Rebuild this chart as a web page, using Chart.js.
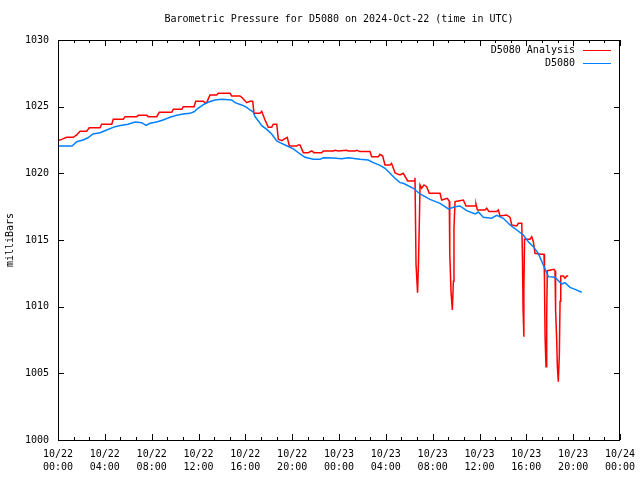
<!DOCTYPE html>
<html>
<head>
<meta charset="utf-8">
<script src="https://cdn.jsdelivr.net/npm/chart.js@4/dist/chart.umd.min.js"></script>
<style>
  body { margin: 0; background: #fff; }
</style>
</head>
<body>
<canvas id="pressureChart" width="640" height="480"></canvas>
<script>
// hours since 10/22 00:00 UTC
const xTickHours = [0, 4, 8, 12, 16, 20, 24, 28, 32, 36, 40, 44, 48];
const xTickLabels = [
  ['10/22', '00:00'], ['10/22', '04:00'], ['10/22', '08:00'], ['10/22', '12:00'],
  ['10/22', '16:00'], ['10/22', '20:00'], ['10/23', '00:00'], ['10/23', '04:00'],
  ['10/23', '08:00'], ['10/23', '12:00'], ['10/23', '16:00'], ['10/23', '20:00'],
  ['10/24', '00:00']
];
const yTicks = [1000, 1005, 1010, 1015, 1020, 1025, 1030];

const analysisHours = [
  0, 0.32, 0.74, 1.31, 1.6, 1.88, 2.45, 2.67, 3.59, 3.73,
  4.59, 4.72, 5.58, 5.72, 6.72, 6.86, 7.58, 7.71, 8.43, 8.65,
  9.71, 9.85, 10.57, 10.7, 11.62, 11.76, 12.41, 12.56, 12.7, 12.98,
  13.55, 13.69, 14.69, 14.84, 15.54, 15.69, 16.12, 16.4, 16.63, 16.74,
  17.25, 17.4, 17.68, 17.96, 18.25, 18.39, 18.68, 18.82, 19.11, 19.39,
  19.58, 19.76, 20.39, 20.52, 20.67, 20.95, 21.38, 21.67, 21.87, 22.52,
  22.66, 23.51, 23.66, 23.94, 24.66, 24.8, 25.37, 25.51, 25.79, 26.65,
  26.79, 27.36, 27.5, 27.73, 27.93, 28.36, 28.49, 28.78, 28.87, 29.21,
  29.49, 29.87, 30.43, 30.49, 30.58, 30.71, 30.79, 30.88, 30.92, 31.06,
  31.26, 31.49, 31.71, 32.63, 32.77, 33.25, 33.42, 33.46, 33.57, 33.68,
  33.77, 33.82, 33.91, 34.19, 34.62, 34.85, 35.62, 35.7, 35.82, 36.47,
  36.62, 36.81, 37.47, 37.61, 37.75, 38.32, 38.61, 38.75, 39.18, 39.32,
  39.61, 39.66, 39.72, 39.78, 39.8, 39.85, 40.31, 40.46, 40.6, 40.74,
  41.23, 41.51, 41.55, 41.6, 41.68, 41.74, 41.79, 42.36, 42.45, 42.5,
  42.59, 42.65, 42.73, 42.82, 42.88, 42.94, 43.16, 43.3, 43.45, 43.58
];
const analysisValues = [
  1022.45, 1022.55, 1022.7, 1022.7, 1022.88, 1023.15, 1023.15, 1023.42, 1023.42, 1023.68,
  1023.68, 1024.05, 1024.05, 1024.25, 1024.25, 1024.35, 1024.35, 1024.25, 1024.25, 1024.58,
  1024.58, 1024.8, 1024.8, 1025.0, 1025.0, 1025.4, 1025.4, 1025.3, 1025.3, 1025.88,
  1025.88, 1026.0, 1026.0, 1025.8, 1025.8, 1025.7, 1025.3, 1025.4, 1025.4, 1024.5,
  1024.5, 1024.65, 1024.0, 1023.45, 1023.45, 1023.68, 1023.68, 1022.55, 1022.45, 1022.6,
  1022.7, 1022.05, 1022.05, 1022.13, 1022.13, 1021.55, 1021.55, 1021.68, 1021.55, 1021.55,
  1021.68, 1021.68, 1021.73, 1021.68, 1021.73, 1021.68, 1021.68, 1021.73, 1021.63, 1021.63,
  1021.25, 1021.25, 1021.43, 1021.3, 1020.63, 1020.63, 1020.75, 1020.05, 1020.0, 1019.88,
  1020.0, 1019.43, 1019.43, 1019.67, 1013.15, 1011.05, 1013.3, 1017.1, 1019.13, 1018.88,
  1019.13, 1019.0, 1018.5, 1018.5, 1018.0, 1018.13, 1017.9, 1014.0, 1011.1, 1009.75,
  1011.9, 1015.9, 1017.88, 1017.93, 1018.0, 1017.55, 1017.55, 1017.7, 1017.25, 1017.25,
  1017.38, 1017.13, 1017.13, 1017.25, 1016.8, 1016.88, 1016.7, 1016.13, 1016.05, 1016.25,
  1016.25, 1014.13, 1009.9, 1007.75, 1011.4, 1015.05, 1015.05, 1015.25, 1014.87, 1014.0,
  1013.93, 1013.93, 1012.0, 1007.75, 1005.5, 1009.25, 1012.7, 1012.8, 1012.7, 1009.75,
  1007.6, 1005.5, 1004.38, 1006.4, 1010.4, 1012.3, 1012.3, 1012.13, 1012.3, 1012.3
];

const stationHours = [
  0, 1.2, 1.6, 2.14, 2.56, 2.99, 3.59, 4.16, 4.87, 5.44,
  5.98, 6.58, 7.15, 7.52, 7.86, 8.43, 8.97, 9.57, 10.14, 10.68,
  11.27, 11.62, 11.96, 12.38, 12.81, 13.41, 13.98, 14.84, 15.12, 15.69,
  16.12, 16.4, 16.66, 16.83, 17.11, 17.4, 17.83, 18.25, 18.68, 18.96,
  19.53, 20.1, 20.67, 21.1, 21.81, 22.38, 22.66, 23.51, 24.23, 24.8,
  25.79, 26.5, 26.93, 27.5, 27.93, 28.36, 28.78, 29.21, 29.49, 30.35,
  30.92, 31.77, 32.63, 33.34, 33.91, 34.33, 34.91, 35.62, 35.9, 36.33,
  37.04, 37.47, 38.03, 38.61, 39.18, 39.74, 40.17, 40.6, 41.02, 41.45,
  41.88, 42.45, 43.02, 43.3, 43.73, 44.16, 44.73
];
const stationValues = [
  1022.05, 1022.05, 1022.37, 1022.5, 1022.67, 1022.95, 1023.05, 1023.25, 1023.5, 1023.6,
  1023.68, 1023.85, 1023.8, 1023.6, 1023.75, 1023.85, 1024.0, 1024.2, 1024.35, 1024.45,
  1024.5, 1024.62, 1024.88, 1025.13, 1025.33, 1025.5, 1025.55, 1025.5, 1025.3, 1025.13,
  1024.95, 1024.75, 1024.62, 1024.25, 1023.93, 1023.57, 1023.3, 1022.95, 1022.43, 1022.3,
  1022.07, 1021.83, 1021.45, 1021.2, 1021.05, 1021.05, 1021.17, 1021.15, 1021.1, 1021.17,
  1021.05, 1021.0, 1020.8, 1020.6, 1020.38, 1020.0, 1019.63, 1019.3, 1019.25, 1018.88,
  1018.45, 1018.05, 1017.75, 1017.33, 1017.5, 1017.55, 1017.2, 1016.95, 1017.1, 1016.7,
  1016.63, 1016.85, 1016.63, 1016.13, 1015.75, 1015.38, 1014.87, 1014.5, 1014.0, 1013.13,
  1012.25, 1012.2, 1011.7, 1011.8, 1011.45, 1011.3, 1011.08
];

const FONT = '"DejaVu Sans Mono", monospace';

// gnuplot style box, inward ticks, title and legend
const gnuplotFrame = {
  id: 'gnuplotFrame',
  afterDraw(chart) {
    const {ctx, chartArea: a, scales: {x, y}} = chart;
    ctx.save();
    ctx.strokeStyle = '#000';
    ctx.lineWidth = 1;
    ctx.strokeRect(a.left + 0.5, a.top + 0.5, a.right - a.left - 1, a.bottom - a.top);
    ctx.beginPath();
    for (let i = 0; i <= 36; i++) {
      const px = Math.round(x.getPixelForValue(i * 4 / 3)) + 0.5;
      const len = i % 3 === 0 ? 6 : 3;
      ctx.moveTo(px, a.bottom); ctx.lineTo(px, a.bottom - len);
      ctx.moveTo(px, a.top); ctx.lineTo(px, a.top + len);
    }
    yTicks.forEach(v => {
      const py = Math.round(y.getPixelForValue(v)) + 0.5;
      ctx.moveTo(a.left, py); ctx.lineTo(a.left + 6, py);
      ctx.moveTo(a.right, py); ctx.lineTo(a.right - 6, py);
    });
    ctx.stroke();

    ctx.fillStyle = '#000';
    ctx.font = '10px ' + FONT;
    ctx.textAlign = 'center';
    ctx.textBaseline = 'middle';
    ctx.fillText('Barometric Pressure for D5080 on 2024-Oct-22 (time in UTC)', (a.left + a.right) / 2, 19);

    ctx.textAlign = 'right';
    chart.data.datasets.forEach((ds, i) => {
      const ly = 50 + i * 13;
      ctx.fillStyle = '#000';
      ctx.fillText(ds.label, 575, ly);
      ctx.strokeStyle = ds.borderColor;
      ctx.beginPath();
      ctx.moveTo(583, ly + 0.5);
      ctx.lineTo(611, ly + 0.5);
      ctx.stroke();
    });
    ctx.restore();
  }
};

new Chart(document.getElementById('pressureChart'), {
  type: 'line',
  data: {
    datasets: [
      {
        label: 'D5080 Analysis',
        data: analysisHours.map((h, i) => ({x: h, y: analysisValues[i]})),
        borderColor: 'rgb(255, 0, 0)',
        borderWidth: 1.5,
        pointRadius: 0,
        order: 2
      },
      {
        label: 'D5080',
        data: stationHours.map((h, i) => ({x: h, y: stationValues[i]})),
        borderColor: 'rgb(0, 128, 255)',
        borderWidth: 1.5,
        pointRadius: 0,
        order: 1
      }
    ]
  },
  options: {
    responsive: false,
    animation: false,
    devicePixelRatio: 1,
    layout: { padding: { top: 40, right: 20, left: 0, bottom: 0 } },
    plugins: {
      legend: { display: false },
      title: { display: false },
      tooltip: { enabled: false }
    },
    scales: {
      x: {
        type: 'linear',
        min: 0,
        max: 48,
        afterFit: s => { s.height = 40; s.paddingLeft = 0; s.paddingRight = 0; },
        afterBuildTicks: s => { s.ticks = xTickHours.map(v => ({value: v})); },
        grid: { drawOnChartArea: false, drawTicks: false },
        border: { display: false },
        ticks: {
          autoSkip: false,
          maxRotation: 0,
          padding: 8,
          color: '#000',
          font: { family: FONT, size: 10, lineHeight: 1.3 },
          callback: v => xTickLabels[xTickHours.indexOf(v)]
        }
      },
      y: {
        min: 1000,
        max: 1030,
        afterFit: s => { s.width = 58; s.paddingTop = 0; s.paddingBottom = 0; },
        afterBuildTicks: s => { s.ticks = yTicks.map(v => ({value: v})); },
        grid: { drawOnChartArea: false, drawTicks: false },
        border: { display: false },
        ticks: {
          padding: 9,
          color: '#000',
          font: { family: FONT, size: 10 },
          callback: v => String(v)
        },
        title: {
          display: true,
          text: 'milliBars',
          color: '#000',
          font: { family: FONT, size: 10 }
        }
      }
    }
  },
  plugins: [gnuplotFrame]
});
</script>
</body>
</html>
